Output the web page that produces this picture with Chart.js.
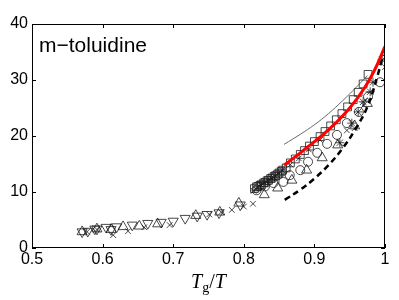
<!DOCTYPE html>
<html>
<head>
<meta charset="utf-8">
<script src="https://cdn.jsdelivr.net/npm/chart.js@4"></script>
<style>
  body { margin: 0; background: #fff; }
  canvas { display: block; }
</style>
</head>
<body>
<canvas id="chart" width="399" height="300"></canvas>
<script>
// axis ticks
const xTickValues = [0.5, 0.6, 0.7, 0.8, 0.9, 1.0];
const xTickLabels = ["0.5", "0.6", "0.7", "0.8", "0.9", "1"];
const yTickValues = [0, 10, 20, 30, 40];
const yTickLabels = ["0", "10", "20", "30", "40"];
const sampleName = "m\u2212toluidine";

// fitted curves
const redX = [0.857, 0.87, 0.89, 0.91, 0.93, 0.95, 0.97, 0.985, 1.0];
const redY = [14.8, 16.0, 18.0, 20.0, 22.3, 25.0, 28.4, 31.7, 36.0];
const thinX = [0.857, 0.88, 0.90, 0.92, 0.94, 0.96, 0.975];
const thinY = [18.5, 20.3, 22.0, 24.0, 26.3, 28.8, 30.8];
const dashX = [0.858, 0.88, 0.90, 0.92, 0.94, 0.957, 0.975, 0.99, 0.997];
const dashY = [8.6, 10.4, 12.4, 14.8, 17.8, 21.0, 25.2, 31.0, 34.5];

// measured points, one pair of arrays per marker
const triDownX = [0.571, 0.579, 0.589, 0.592, 0.605, 0.612, 0.620, 0.642, 0.664, 0.683, 0.700, 0.717, 0.734, 0.748, 0.765, 0.795];
const triDownY = [2.9, 3.0, 3.4, 3.4, 3.7, 3.3, 3.8, 4.1, 4.4, 4.6, 4.8, 5.3, 5.7, 6.0, 6.3, 7.7];
const triUpX = [0.571, 0.592, 0.612, 0.629, 0.652, 0.678, 0.732, 0.766, 0.793,
  0.829, 0.848, 0.868, 0.889, 0.911, 0.933, 0.957, 0.975];
const triUpY = [2.9, 3.4, 3.3, 3.8, 3.9, 4.3, 5.8, 6.4, 8.0,
  9.5, 10.7, 12.1, 13.9, 16.1, 18.4, 21.8, 25.8];
const crossX = [0.578, 0.592, 0.615, 0.636, 0.659, 0.695, 0.751, 0.768, 0.783, 0.80,
  0.813, 0.814, 0.817, 0.819, 0.822, 0.824, 0.827, 0.829, 0.832, 0.834, 0.837, 0.839,
  0.842, 0.844, 0.847, 0.849, 0.852, 0.854, 0.857, 0.866, 0.878, 0.892, 0.908,
  0.946, 0.957, 0.97, 1.0];
const crossY = [2.9, 3.3, 2.3, 3.0, 3.7, 4.1, 6.0, 6.4, 6.8, 7.4,
  7.9, 10.2, 10.6, 10.8, 11.0, 11.3, 11.4, 11.7, 11.8, 12.1, 12.2, 12.5,
  12.6, 12.9, 13.0, 13.4, 13.5, 13.9, 14.0, 14.9, 16.0, 17.6, 19.3,
  21.0, 21.4, 25.5, 32.3];
const squareX = [0.815, 0.818, 0.82, 0.823, 0.825, 0.828, 0.83, 0.833, 0.835, 0.838, 0.84,
  0.843, 0.845, 0.848, 0.85, 0.853, 0.855, 0.86,
  0.866, 0.873, 0.88, 0.886, 0.893, 0.9, 0.908, 0.915, 0.923, 0.931, 0.939, 0.947,
  0.955, 0.962, 0.969, 0.976];
const squareY = [10.6, 10.9, 11.0, 11.2, 11.3, 11.6, 11.7, 12.0, 12.1, 12.4, 12.5,
  12.8, 12.9, 13.2, 13.4, 13.7, 13.9, 14.3,
  15.2, 15.9, 16.7, 17.4, 18.2, 19.0, 19.9, 20.8, 21.8, 22.9, 24.0, 25.2,
  26.5, 27.8, 29.3, 31.0];
const circleX = [0.818, 0.83, 0.842, 0.856, 0.865, 0.88, 0.891, 0.904, 0.918, 0.932, 0.946, 0.963, 0.976, 0.993];
const circleY = [10.3, 11.0, 11.6, 11.8, 13.0, 13.9, 15.4, 17.0, 18.6, 20.2, 22.3, 24.3, 27.0, 29.6];
const starX = [0.936, 0.953, 0.962, 0.969, 0.979, 0.983, 0.996];
const starY = [18.8, 22.3, 24.3, 26.1, 27.9, 29.6, 33.6];

function pairs(xs, ys) {
  return xs.map((x, i) => ({ x: x, y: ys[i] }));
}

function curve(xs, ys, color, width, dash) {
  return {
    type: 'line',
    data: pairs(xs, ys),
    borderColor: color,
    borderWidth: width,
    borderDash: dash || [],
    pointRadius: 0,
    tension: 0.4,
    fill: false,
  };
}

function markers(xs, ys, style, radius, rotation) {
  return {
    type: 'scatter',
    data: pairs(xs, ys),
    pointStyle: style,
    pointRadius: radius,
    pointRotation: rotation || 0,
    borderColor: '#1a1a1a',
    backgroundColor: 'rgba(0,0,0,0)',
    borderWidth: 0.8,
  };
}

const frame = {
  id: 'frame',
  afterDraw(chart) {
    const c = chart.ctx;
    const a = chart.chartArea;
    const xs = chart.scales.x;
    const ys = chart.scales.y;
    c.save();
    c.strokeStyle = '#000';
    c.lineWidth = 1;
    c.strokeRect(a.left + 0.5, a.top + 0.5, a.right - a.left - 1, a.bottom - a.top - 1);
    c.beginPath();
    xTickValues.forEach(v => {
      const p = Math.round(xs.getPixelForValue(v)) + 0.5;
      c.moveTo(p, a.bottom); c.lineTo(p, a.bottom - 4);
      c.moveTo(p, a.top); c.lineTo(p, a.top + 4);
    });
    yTickValues.forEach(v => {
      const p = Math.round(ys.getPixelForValue(v)) + 0.5;
      c.moveTo(a.left, p); c.lineTo(a.left + 4, p);
      c.moveTo(a.right, p); c.lineTo(a.right - 4, p);
    });
    c.stroke();

    c.fillStyle = '#000';
    c.textBaseline = 'alphabetic';
    c.font = '21px "Liberation Sans", Arial, sans-serif';
    c.fillText(sampleName, 39, 52);

    // x axis title T_g / T
    const parts = [
      { t: 'T', f: 'italic 20px "Liberation Serif", serif', dy: 0 },
      { t: 'g', f: '14px "Liberation Serif", serif', dy: 4 },
      { t: '/', f: '20px "Liberation Serif", serif', dy: 0 },
      { t: 'T', f: 'italic 20px "Liberation Serif", serif', dy: 0 },
    ];
    let total = 0;
    parts.forEach(p => { c.font = p.f; p.w = c.measureText(p.t).width; total += p.w; });
    let x = (a.left + a.right) / 2 - total / 2;
    parts.forEach(p => {
      c.font = p.f;
      c.fillText(p.t, x, 288 + p.dy);
      x += p.w;
    });
    c.restore();
  }
};

const tickFont = { family: '"Liberation Sans", Arial, sans-serif', size: 16 };

new Chart(document.getElementById('chart'), {
  type: 'scatter',
  data: {
    datasets: [
      curve(redX, redY, '#ff0000', 3),
      curve(dashX, dashY, '#000', 2.5, [6, 4]),
      curve(thinX, thinY, '#444', 0.8),
      markers(squareX, squareY, 'rect', 5.5),
      markers(crossX, crossY, 'crossRot', 4),
      markers(circleX, circleY, 'circle', 4.5),
      markers(triUpX, triUpY, 'triangle', 5.8),
      markers(triDownX, triDownY, 'triangle', 5.8, 180),
      markers(starX, starY, 'star', 4.5),
    ],
  },
  options: {
    responsive: false,
    animation: false,
    layout: { padding: { top: 24, right: 14, left: 0, bottom: 0 } },
    plugins: { legend: { display: false }, tooltip: { enabled: false } },
    scales: {
      x: {
        type: 'linear',
        min: 0.5,
        max: 1,
        afterBuildTicks: s => { s.ticks = xTickValues.map(v => ({ value: v })); },
        afterFit: s => { s.height = 52; },
        grid: { display: false, drawTicks: false },
        border: { display: false },
        ticks: { color: '#000', font: tickFont, padding: 2, maxRotation: 0,
          callback: (v, i) => xTickLabels[i] },
      },
      y: {
        type: 'linear',
        min: 0,
        max: 40,
        afterBuildTicks: s => { s.ticks = yTickValues.map(v => ({ value: v })); },
        afterFit: s => { s.width = 32; },
        grid: { display: false, drawTicks: false },
        border: { display: false },
        ticks: { color: '#000', font: tickFont, padding: 4,
          callback: (v, i) => yTickLabels[i] },
      },
    },
  },
  plugins: [frame],
});
</script>
</body>
</html>
